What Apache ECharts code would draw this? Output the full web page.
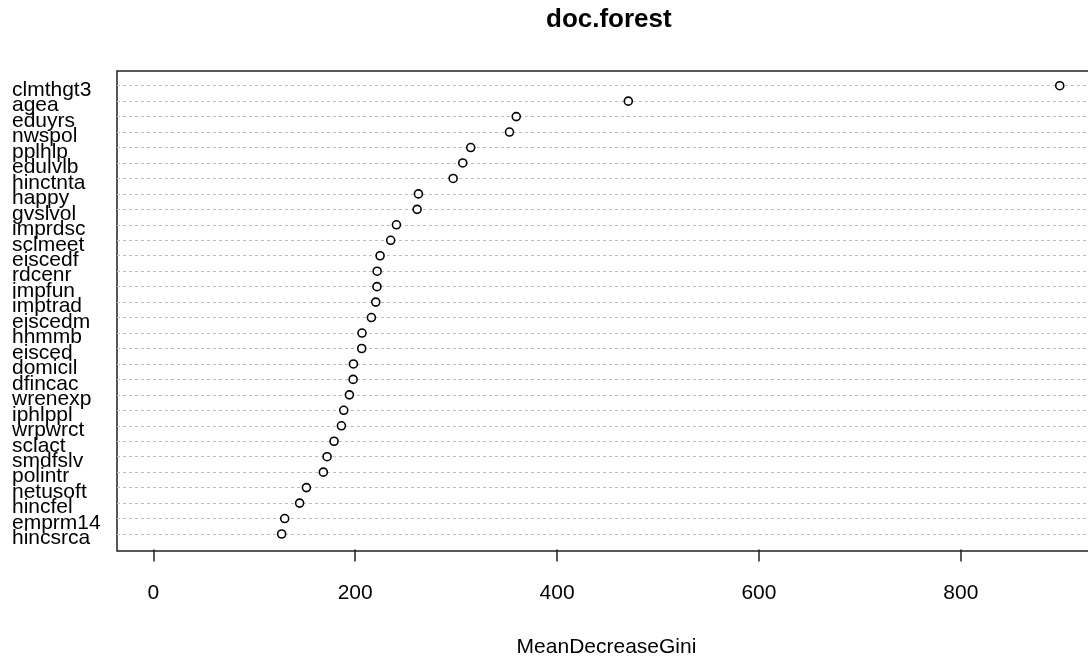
<!DOCTYPE html>
<html>
<head>
<meta charset="utf-8">
<script src="https://cdn.jsdelivr.net/npm/echarts@6/dist/echarts.min.js"></script>
<style>
html,body{margin:0;padding:0;background:#fff;}
#chart{width:1088px;height:657px;}
</style>
</head>
<body>
<div id="chart"></div>
<script>
// variables listed top to bottom
const variables = ["clmthgt3","agea","eduyrs","nwspol","pplhlp","edulvlb","hinctnta","happy","gvslvol","imprdsc","sclmeet","eiscedf","rdcenr","impfun","imptrad","eiscedm","hhmmb","eisced","domicil","dfincac","wrenexp","iphlppl","wrpwrct","sclact","smdfslv","polintr","netusoft","hincfel","emprm14","hincsrca"];
const meanDecreaseGini = [898,470.6,359.6,352.9,314.5,306.6,297.1,262.7,261.4,240.9,235.2,224.7,221.8,221.6,220.4,216.1,206.8,206.5,198.3,198.0,194.3,188.7,186.4,179.1,172.2,168.5,151.7,145.0,130.2,127.2];
const xTicks = [0,200,400,600,800];
const titleText = "doc.forest";
const xName = "MeanDecreaseGini";

const n = variables.length;
const yMin = -0.1, yMax = n + 0.95;
const rowPos = variables.map((_, i) => n - i);
// include the axis ends (empty labels) so no real label is treated as min/max label
const yCustom = [yMax, ...rowPos, yMin];
const points = meanDecreaseGini.map((v, i) => [v, n - i]);
const xMaxData = Math.max(...meanDecreaseGini);
const xMin = -0.04 * xMaxData, xMax = 1.04 * xMaxData;
const font = "'Liberation Sans', Arial, sans-serif";

const chart = echarts.init(document.getElementById('chart'), null, {renderer: 'canvas'});
chart.setOption({
  animation: false,
  backgroundColor: '#ffffff',
  title: {
    text: titleText,
    left: 541, top: 2,
    textStyle: {fontFamily: font, fontSize: 26, fontWeight: 'bold', color: '#000'}
  },
  grid: {
    left: 117, width: 979, top: 71, height: 480,
    outerBoundsMode: 'none', containLabel: false,
    show: true, borderColor: '#222', borderWidth: 1.5, backgroundColor: 'transparent'
  },
  xAxis: {
    type: 'value', min: xMin, max: xMax,
    name: xName, nameLocation: 'middle', nameGap: 86,
    nameTextStyle: {fontFamily: font, fontSize: 21, color: '#000'},
    axisLine: {show: false},
    axisTick: {show: true, length: 12, customValues: xTicks, lineStyle: {color: '#222', width: 1.5}},
    axisLabel: {customValues: xTicks, margin: 32, fontFamily: font, fontSize: 21, color: '#000'},
    splitLine: {show: false}
  },
  yAxis: {
    type: 'value', min: yMin, max: yMax,
    axisLine: {show: false},
    axisTick: {show: false, customValues: yCustom},
    axisLabel: {
      customValues: yCustom,
      formatter: v => (Number.isInteger(v) && v >= 1 && v <= n) ? variables[n - v] : '',
      showMinLabel: false, showMaxLabel: false, hideOverlap: false,
      align: 'left', verticalAlign: 'top', lineHeight: 9, margin: 105,
      fontFamily: font, fontSize: 21, color: '#000'
    },
    splitLine: {show: true, showMinLine: false, showMaxLine: false, lineStyle: {color: '#bdbdbd', width: 1, type: [3, 3]}}
  },
  series: [{
    type: 'scatter',
    data: points,
    symbol: 'circle',
    symbolSize: 8,
    itemStyle: {color: '#ffffff', borderColor: '#000', borderWidth: 1.6, opacity: 1},
    z: 5
  }]
});
</script>
</body>
</html>
